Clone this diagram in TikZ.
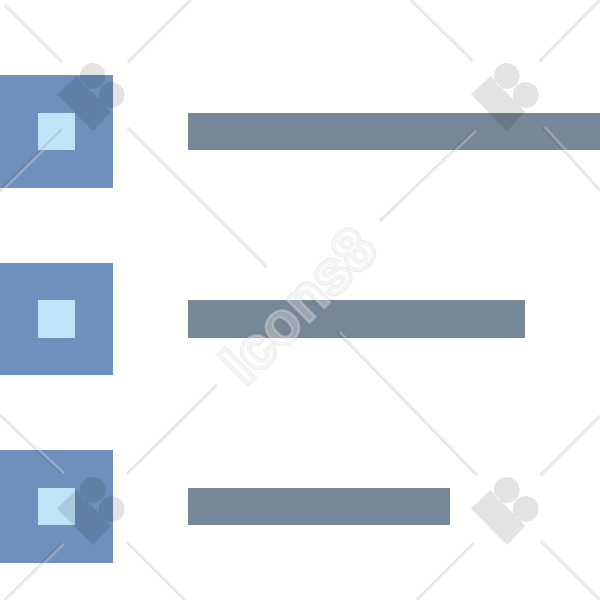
\documentclass[tikz,border=0pt]{standalone}
\usepackage{fontspec}
\setmainfont{Liberation Sans}
\definecolor{sqblue}{HTML}{6F8FBC}
\definecolor{sqlight}{HTML}{BFE3F7}
\definecolor{barslate}{HTML}{768797}
\tikzset{
  sqbox/.style={fill=sqblue,draw=none},
  sqinner/.style={fill=sqlight,draw=none},
  barbox/.style={fill=barslate,draw=none},
  wmlogo/.style={fill=black,fill opacity=.11,draw=none},
  wmdark/.style={draw=black,draw opacity=.1,line width=3pt},
  wmlight/.style={draw=white,draw opacity=.3,line width=2.4pt},
}
\newcommand{\wmline}[4]{%
  \draw[wmdark] (#1,#2) -- (#3,#4);
  \draw[wmlight] (#1+1.6,#2) -- (#3+1.6,#4);
}
\begin{document}
\begin{tikzpicture}[x=1pt,y=-1pt]
\useasboundingbox (0,0) rectangle (600,600);
\fill[white] (0,0) rectangle (600,600);
% list icon
\foreach \y in {75,262.5,450}{
  \fill[sqbox] (0,\y) rectangle (112.5,\y+112.5);
  \fill[sqinner] (37.5,\y+37.5) rectangle (75,\y+75);
}
\fill[barbox] (187.5,112.5) rectangle (600,150);
\fill[barbox] (187.5,300) rectangle (525,337.5);
\fill[barbox] (187.5,487.5) rectangle (450,525);
% watermark logos
\foreach \dx/\dy in {0/0,414/0,0/414,414/414}{
  \begin{scope}[shift={(\dx,\dy)}]
    \fill[wmlogo] (57,94.5) -- (93,131) -- (111,112) -- (76.5,76) -- cycle
      (92.7,76) circle[radius=13] (111.7,95) circle[radius=13];
  \end{scope}
}
% watermark lines
\wmline{5}{5}{62}{62}
\wmline{128}{62}{191}{0}
\wmline{62}{130}{0}{191}
\wmline{128}{128}{267}{267}
\wmline{411}{0}{473}{61}
\wmline{540}{61}{600}{0}
\wmline{474}{131}{380}{221}
\wmline{543}{127}{600}{190}
\wmline{0}{415}{62}{473}
\wmline{127}{474}{217}{385}
\wmline{62}{544}{5}{600}
\wmline{127}{542}{185}{600}
\wmline{338}{332}{477}{475}
\wmline{541}{475}{600}{416}
\wmline{474}{543}{417}{600}
\wmline{541}{541}{600}{600}
% watermark word
\node[rotate=45,text=black,opacity=.07,inner sep=0pt,font=\bfseries\fontsize{60}{60}\selectfont] (wmouter) at (298,305)
  {\special{pdf:code 1 Tr 4.5 w 0 G}Icons8\special{pdf:code 0 Tr 1 w}};
\node[rotate=45,text=white,opacity=.28,inner sep=0pt,font=\bfseries\fontsize{60}{60}\selectfont] (wminner) at (298,305)
  {\special{pdf:code 2 Tr 3 w 1 G}Icons8\special{pdf:code 0 Tr 1 w}};
\end{tikzpicture}
\end{document}
